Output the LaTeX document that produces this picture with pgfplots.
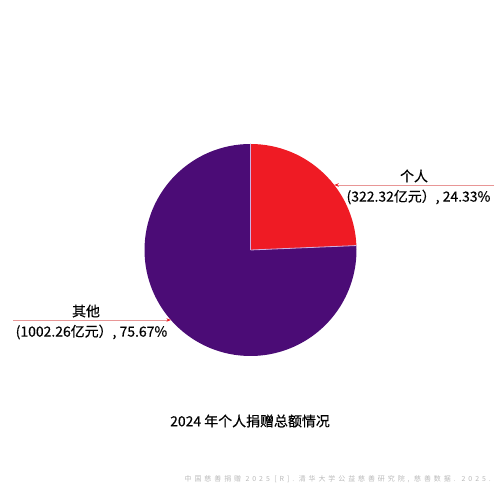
\documentclass[border=0pt]{standalone}
\usepackage{fontspec}
\setmainfont{Noto Sans CJK SC}
\newfontfamily\labfont[FakeBold=0.4]{Noto Sans CJK SC}
\newfontfamily\footfont[LetterSpace=42]{Noto Sans CJK SC}
\usepackage{pgfplots}
\usepackage{pgfplotstable}
\pgfplotsset{compat=1.18}
\usetikzlibrary{arrows.meta}
\definecolor{pred}{RGB}{239,27,36}
\definecolor{ppurple}{RGB}{75,12,118}
\definecolor{pborder}{RGB}{205,175,225}
\definecolor{lline}{RGB}{232,150,150}
\definecolor{foot}{RGB}{185,185,185}

\pgfplotstableread{
value
322.32
1002.26
}\piedata

\begin{document}
\begin{tikzpicture}
\pgfplotstablegetelem{0}{value}\of\piedata \let\va\pgfplotsretval
\pgfplotstablegetelem{1}{value}\of\piedata \let\vb\pgfplotsretval
\pgfmathsetmacro\fracA{\va/(\va+\vb)}
\pgfmathsetmacro\angA{360*\fracA}
\pgfmathsetmacro\endB{450-\angA}
\pgfmathsetmacro\sA{90-\angA}
\pgfmathsetmacro\xa{250.5+sqrt(106*106-65*65)}
\pgfmathsetmacro\xb{250.5-sqrt(106*106-70*70)}
\begin{axis}[x=1bp,y=1bp,xmin=0,xmax=500,ymin=0,ymax=500,
  scale only axis,hide axis,clip=false,anchor=south west,at={(0,0)}]
\path (axis cs:0,0) rectangle (axis cs:500,500);
% other slice
\fill[ppurple]
  (axis cs:250.5,250) -- ++(90:106bp) arc[start angle=90,end angle=\endB,radius=106bp] -- cycle;
% individual slice
\fill[pred]
  (axis cs:250.5,250) -- ++(\sA:106bp) arc[start angle=\sA,end angle=90,radius=106bp] -- cycle;
% slice separators
\draw[pborder,line width=0.8bp] (axis cs:250.5,250) -- ++(90:106bp);
\draw[pborder,line width=0.8bp] (axis cs:250.5,250) -- ++(\sA:106bp);
% label lines
\draw[lline,line width=0.7bp,-{Stealth[length=4.5bp,width=3.5bp,color=pred]}]
  (axis cs:494,315) -- (axis cs:\xa,315);
\draw[lline,line width=0.7bp,-{Stealth[length=4.5bp,width=3.5bp,color=pred]}]
  (axis cs:13,180) -- (axis cs:\xb,180);
% labels
\node[font=\labfont\fontsize{14}{16}\selectfont,inner sep=0] at (axis cs:414,324) {个人};
\node[font=\labfont\fontsize{14}{16}\selectfont,inner sep=0] at (axis cs:418.5,303) {(322.32亿元）, 24.33\%};
\node[font=\labfont\fontsize{14}{16}\selectfont,inner sep=0] at (axis cs:86,189) {其他};
\node[font=\labfont\fontsize{14}{16}\selectfont,inner sep=0] at (axis cs:91.5,168) {(1002.26亿元）, 75.67\%};
% title
\node[font=\labfont\fontsize{14}{16}\selectfont,inner sep=0] at (axis cs:250,79) {2024 年个人捐赠总额情况};
% footer
\node[font=\footfont\fontsize{7}{8}\selectfont,text=foot,inner sep=0,anchor=east] at (axis cs:491,21)
  {中国慈善捐赠 2025 [R]. 清华大学公益慈善研究院, 慈善数据. 2025.};
\end{axis}
\end{tikzpicture}
\end{document}
